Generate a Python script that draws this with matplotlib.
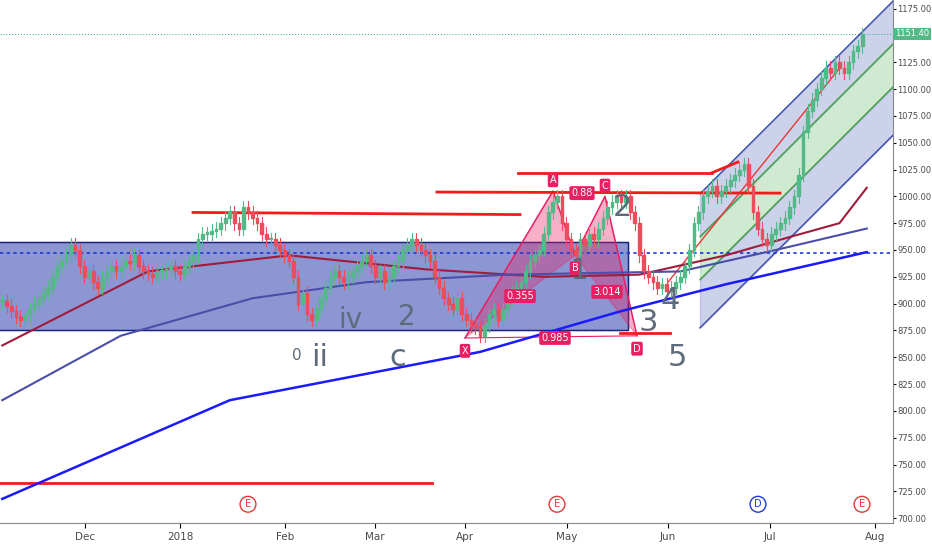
import matplotlib
matplotlib.use("Agg")
import matplotlib.pyplot as plt
import pandas as pd
import numpy as np

closes = [
902,898,893,888,885, 890,895,900,905,910, 915,925,935,940,945, 955,950,935,925,930,
920,915,925,930,935, 930,935,940,938,945, 935,930,928,925,930, 930,932,935,930,928,
935,940,945,960,965, 965,968,970,975,980, 985,975,970,990,985, 980,975,965,960,960,
955,950,945,940,925, 900,910,890,885,895, 905,915,925,930,925, 920,925,930,935,940,
945,935,925,930,920, 925,935,940,950,955, 960,955,950,945,940, 925,915,905,900,895,
905,890,885,880,878, 870,880,890,895,885, 895,905,910,915,920, 930,940,945,950,965,
985,995,1000,975,960, 950,945,960,955,965, 960,970,980,990,995, 1000,995,1000,985,975,
945,930,925,920,915, 918,912,915,920,925, 935,950,975,985,1000, 1005,1010,1000,1005,1010,
1015,1020,1025,1030,1010, 985,970,960,955,965, 970,975,980,990,1000, 1020,1060,1080,1090,1100,
1110,1120,1115,1125,1120, 1115,1125,1135,1140,1151]
dates = pd.bdate_range("2017-11-06", periods=len(closes))

ma50_d = ["2017-11-06","2017-12-20","2018-02-01","2018-03-15","2018-04-20","2018-05-20","2018-06-15","2018-07-05","2018-07-20","2018-07-30"]
ma50_v = [861,930,945,932,925,927,945,962,975,1008]
ma100_d = ["2017-11-06","2017-12-12","2018-01-20","2018-02-25","2018-04-10","2018-06-01","2018-07-01","2018-07-30"]
ma100_v = [810,870,905,920,927,930,950,970]
ma200_d = ["2017-11-06","2018-01-15","2018-04-01","2018-05-15","2018-06-15","2018-07-30"]
ma200_v = [718,810,855,893,918,948]

PX = 4.55  # pixels per trading day in the reference
def d(s): return float(np.busday_count("2017-11-06", pd.Timestamp(s).strftime("%Y-%m-%d")))
def p(px): return px / PX - 0.5

fig = plt.figure(figsize=(9.32,5.5), dpi=100)
ax = fig.add_axes([0, 0.05, 893/932, 0.95])
ax.set_facecolor("white")

ax.add_patch(plt.Rectangle((p(-10),875), p(628)-p(-10), 82, color="#3f51b5", alpha=0.6, zorder=1))
ax.add_patch(plt.Rectangle((p(-10),875), p(628)-p(-10), 82, fill=False, ec="#1a237e", lw=1, zorder=1))

slope = (1182-1035)/(p(893)-p(735))
def line(off, x): return 1035 + off + slope*(x-p(735))
xs = np.array([p(700), p(900)])
for a,b,c in [(0,-40,"#5c6bc0"),(-40,-80,"#66bb6a"),(-80,-125,"#5c6bc0")]:
    ax.fill_between(xs, line(a,xs), line(b,xs), color=c, alpha=0.3, zorder=1)
for o,c in [(0,"#3949ab"),(-40,"#43a047"),(-80,"#43a047"),(-125,"#3949ab")]:
    ax.plot(xs, line(o,xs), color=c, lw=1, zorder=2)
ax.plot([p(668), p(840)], [920, 1120], color="#e53935", lw=1, zorder=2)

X=(p(465),868); A=(p(553),1005); B=(p(575),945); C=(p(605),1000); D=(p(637),870)
ax.fill([X[0],A[0],B[0]],[X[1],A[1],B[1]], color="#e91e63", alpha=0.35, zorder=2)
ax.fill([B[0],C[0],D[0]],[B[1],C[1],D[1]], color="#e91e63", alpha=0.35, zorder=2)
ax.plot([X[0],A[0],B[0],C[0],D[0]],[X[1],A[1],B[1],C[1],D[1]], color="#e91e63", lw=1, zorder=2)
ax.plot([X[0],D[0]],[X[1],D[1]], color="#e91e63", lw=0.8, zorder=2)
for pt,t in [(X,"X"),(A,"A"),(B,"B"),(C,"C"),(D,"D")]:
    ax.text(pt[0], pt[1]+(-12 if t in "XBD" else 10), t, color="white", fontsize=7, ha="center", va="center",
            bbox=dict(boxstyle="round,pad=0.2", fc="#e91e63", ec="none"), zorder=6)
for x,y,t in [(p(520),907,"0.355"),(p(582),1003,"0.88"),(p(607),911,"3.014"),(p(555),868,"0.985")]:
    ax.text(x,y,t,color="white",fontsize=7,ha="center",va="center",bbox=dict(boxstyle="round,pad=0.2",fc="#e91e63",ec="none"),zorder=6)

for (a,b,y1,y2) in [(193,520,985,983),(437,780,1004,1003),(518,712,1022,1022),(0,432,733,733),(620,670,873,873),(712,738,1022,1032)]:
    ax.plot([p(a),p(b)],[y1,y2],color="#f21b1b",lw=2,zorder=3)
ax.axhline(947, color="#1e3ad6", ls=(0,(2,2)), lw=1.2, zorder=3)
ax.axhline(1151.4, color="#26a69a", ls=(0,(1,2)), lw=0.7, zorder=1)

ax.plot([d(s) for s in ma50_d], ma50_v, color="#a01c3c", lw=1.5, zorder=3)
ax.plot([d(s) for s in ma100_d], ma100_v, color="#4a4ea8", lw=1.5, zorder=3)
ax.plot([d(s) for s in ma200_d], ma200_v, color="#1a1aff", lw=1.8, zorder=3)

opens = [closes[0]] + closes[:-1]
for i,(o,c) in enumerate(zip(opens, closes)):
    col = "#53b987" if c >= o else "#eb4d5c"
    ax.plot([i,i],[min(o,c)-6,max(o,c)+6], color=col, lw=0.8, zorder=4)
    ax.add_patch(plt.Rectangle((i-0.3, min(o,c)), 0.6, max(abs(c-o),1.5), color=col, zorder=5))

for x,y,t,s in [(297,852,"0",11),(320,850,"ii",22),(350,885,"iv",20),(398,850,"c",22),(407,888,"2",20),
                (580,930,"1",20),(622,990,"2",22),(648,882,"3",22),(670,903,"4",22),(677,850,"5",22)]:
    ax.text(p(x),y,t,color="#5d6b7a",fontsize=s,ha="center",va="center",zorder=6)
for x,t,c in [(248,"E","#e53935"),(557,"E","#e53935"),(758,"D","#1e3ad6"),(862,"E","#e53935")]:
    ax.text(p(x),713,t,color=c,fontsize=7,ha="center",va="center",
            bbox=dict(boxstyle="circle,pad=0.3",fc="white",ec=c),zorder=6)

ax.set_xlim(p(0), p(893))
ax.set_ylim(696, 1183)
ax.yaxis.tick_right()
ax.set_yticks(np.arange(700, 1176, 25))
ax.set_yticklabels([f"{v:.2f}" for v in np.arange(700,1176,25)], fontsize=6, color="#4a4a4a")
ax.tick_params(axis="y", pad=1, length=2)
ax.set_xticks([p(v) for v in [85,180,285,375,465,567,668,770,875]])
ax.set_xticklabels(["Dec","2018","Feb","Mar","Apr","May","Jun","Jul","Aug"], fontsize=7.5, color="#4a4a4a")
for s in ["top","left"]: ax.spines[s].set_visible(False)
ax.spines["right"].set_color("#888"); ax.spines["bottom"].set_color("#888")
ax.text(1.002, 1151.4, "1151.40", transform=ax.get_yaxis_transform(), fontsize=6, color="white", va="center",
        bbox=dict(boxstyle="square,pad=0.2", fc="#53b987", ec="none"), clip_on=False, zorder=10)
fig.savefig("out.png", dpi=100)
